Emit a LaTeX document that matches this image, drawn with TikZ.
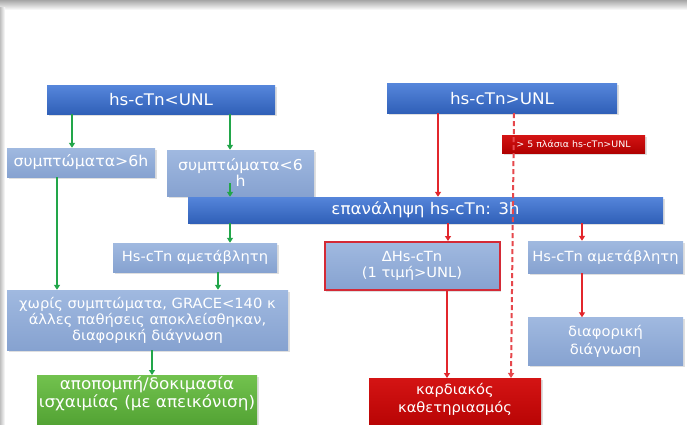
\documentclass[tikz,border=0pt]{standalone}
\usepackage{fontspec}
\setmainfont[FakeStretch=1.05]{DejaVu Sans}
\usetikzlibrary{arrows.meta,shadows}
\definecolor{dbT}{HTML}{5585DA}
\definecolor{dbB}{HTML}{3060B8}
\definecolor{lbT}{HTML}{A0B9E0}
\definecolor{lbB}{HTML}{86A2D0}
\definecolor{grT}{HTML}{72C24E}
\definecolor{grB}{HTML}{4C9C2E}
\definecolor{rdT}{HTML}{D41414}
\definecolor{rdB}{HTML}{B00000}
\definecolor{garr}{HTML}{22A64A}
\definecolor{rarr}{HTML}{E2262C}
\definecolor{rbord}{HTML}{D42A36}
\tikzset{
  box/.style={rectangle, inner sep=1pt, text=white, align=center,
    drop shadow={shadow xshift=1.5pt, shadow yshift=-1.5pt, opacity=0.25}},
  dbox/.style={box, top color=dbT, bottom color=dbB, font=\fontsize{16}{18}\selectfont},
  lbox/.style={box, top color=lbT, bottom color=lbB, font=\fontsize{14}{16}\selectfont},
  gbox/.style={box, top color=grT, bottom color=grB, font=\fontsize{16}{18}\selectfont},
  rbox/.style={box, top color=rdT, bottom color=rdB, font=\fontsize{14}{18}\selectfont},
  garrow/.style={draw=garr, line width=1.3pt, -{Triangle[width=6pt,length=5pt]}},
  rarrow/.style={draw=rarr, line width=1.3pt, -{Triangle[width=6pt,length=5pt]}},
  rdash/.style={draw=rarr!85, line width=2pt, dash pattern=on 5pt off 3pt, -{Triangle[width=6pt,length=5pt]}},
}
\begin{document}
\begin{tikzpicture}[x=1pt,y=-1pt]
\useasboundingbox (0,0) rectangle (687,425);
\fill[white] (0,0) rectangle (687,425);
\shade[top color=black!35, bottom color=white] (0,0) rectangle (687,10);
\shade[left color=black!25, right color=white] (0,8) rectangle (5,425);
\begin{scope}
\clip (0,0) rectangle (687,425);
% top row
\node[dbox, minimum width=228pt, minimum height=28pt] (A) at (161,100) {hs-cTn<UNL};
\node[dbox, minimum width=230pt, minimum height=29pt] (B) at (502,98.5) {hs-cTn>UNL};
% second row
\node[lbox, minimum width=148pt, minimum height=29pt, font=\fontsize{15}{16}\selectfont] (C) at (81,162.5) {συμπτώματα>6h};
\node[lbox, minimum width=147pt, minimum height=46pt, font=\fontsize{15}{16}\selectfont] (D) at (240.5,173) {συμπτώματα<6\\h};
\node[rbox, minimum width=143pt, minimum height=18pt, font=\fontsize{9}{10}\selectfont] (M) at (573.5,144) {> 5 πλάσια hs-cTn>UNL};
% repeat bar
\node[dbox, minimum width=475pt, minimum height=26pt] (E) at (425.5,210) {επανάληψη hs-cTn: 3h};
% third row
\node[lbox, minimum width=164pt, minimum height=29pt] (F) at (195,257.5) {Hs-cTn αμετάβλητη};
\node[lbox, minimum width=175pt, minimum height=48pt, draw=rbord, line width=2pt] (I) at (412,266) {ΔHs-cTn\\(1 τιμή>UNL)};
\node[lbox, minimum width=155pt, minimum height=32pt] (J) at (605.5,257) {Hs-cTn αμετάβλητη};
% fourth row
\node[lbox, minimum width=281pt, minimum height=60pt] (G) at (147.5,320) {χωρίς συμπτώματα, GRACE<140 κ\\άλλες παθήσεις αποκλείσθηκαν,\\διαφορική διάγνωση};
\node[lbox, minimum width=155pt, minimum height=48pt, font=\fontsize{14}{18}\selectfont] (K) at (605.5,341.5) {διαφορική\\διάγνωση};
% bottom row
\node[gbox, minimum width=220pt, inner sep=0pt, anchor=north] (H) at (147,375)
  {\parbox[c][60pt][t]{220pt}{\centering\vspace*{1pt}αποπομπή/δοκιμασία\\ισχαιμίας (με απεικόνιση)}};
\node[rbox, minimum width=172pt, inner sep=0pt, anchor=north] (L) at (455,378)
  {\parbox[c][60pt][t]{172pt}{\centering\vspace*{5pt}καρδιακός\\καθετηριασμός}};
% green connectors
\draw[garrow] (A.south -| 72,0) -- (C.north -| 72,0);
\draw[garrow] (A.south -| 230,0) -- (D.north -| 230,0);
\draw[garrow] (C.south -| 57,0) -- (G.north -| 57,0);
\draw[garrow] ([yshift=13pt]D.south -| 230,0) -- (E.north -| 230,0);
\draw[garrow] (E.south -| 230,0) -- (F.north -| 230,0);
\draw[garrow] (F.south -| 218,0) -- (G.north -| 218,0);
\draw[garrow] (G.south -| 152,0) -- (H.north -| 152,0);
% red connectors
\draw[rarrow] (B.south -| 438,0) -- (E.north -| 438,0);
\draw[rarrow] (E.south -| 448,0) -- (I.north -| 448,0);
\draw[rarrow] (E.south -| 582,0) -- (J.north -| 582,0);
\draw[rarrow] (I.south -| 447,0) -- (L.north -| 447,0);
\draw[rarrow] (J.south -| 582,0) -- (K.north -| 582,0);
\draw[rdash] (B.south -| 514,0) -- (L.north -| 511,0);
\end{scope}
\end{tikzpicture}
\end{document}
